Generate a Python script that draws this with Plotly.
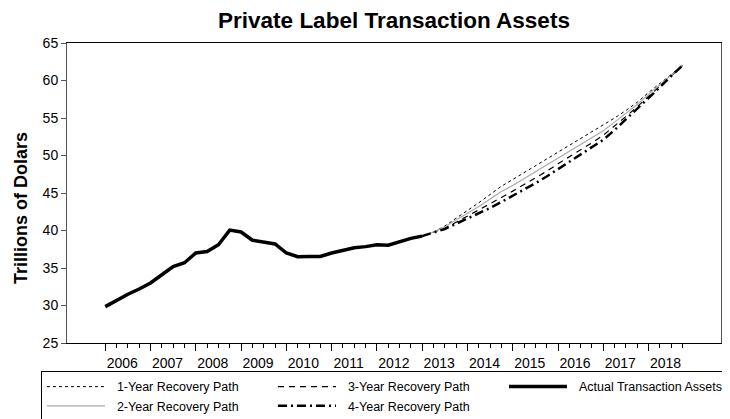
import plotly.graph_objects as go

# ---- data ----
years = list(range(2006, 2019))
quarters_actual = [2006 + k / 4 for k in range(29)]          # 2006Q1 .. 2013Q1
actual = [29.85, 30.7, 31.5, 32.2, 33.0, 34.1, 35.2, 35.7, 37.0, 37.2,
          38.1, 40.05, 39.8, 38.7, 38.5, 38.2, 37.0, 36.5, 36.55, 36.55,
          37.0, 37.4, 37.7, 37.85, 38.1, 38.05, 38.5, 38.95, 39.25]

quarters_proj = [2013 + k / 4 for k in range(24)]             # 2013Q1 .. 2018Q4
path_1y = [39.25, 39.8, 40.6, 41.6, 42.7, 43.7, 44.8, 45.9, 46.8, 47.7, 48.6, 49.5,
           50.4, 51.3, 52.2, 53.1, 54.0, 55.0, 56.0, 57.1, 58.4, 59.6, 60.8, 62.0]
path_2y = [39.25, 39.8, 40.5, 41.35, 42.3, 43.2, 44.2, 45.2, 46.0, 46.9, 47.8, 48.7,
           49.6, 50.6, 51.5, 52.4, 53.3, 54.45, 55.6, 56.8, 58.15, 59.4, 60.7, 62.0]
path_3y = [39.25, 39.75, 40.3, 41.1, 41.9, 42.7, 43.55, 44.4, 45.25, 46.1, 47.0, 47.9,
           48.9, 49.8, 50.8, 51.7, 52.7, 53.9, 55.2, 56.5, 57.9, 59.25, 60.65, 62.0]
path_4y = [39.25, 39.7, 40.2, 40.9, 41.6, 42.25, 43.0, 43.8, 44.6, 45.4, 46.3, 47.2,
           48.2, 49.2, 50.2, 51.1, 52.1, 53.4, 54.8, 56.2, 57.7, 59.1, 60.6, 62.0]

year_labels = [str(y) for y in years]
minor_ticks = [y + q / 4 for y in years for q in (1, 2, 3)]

FONT = "Liberation Sans, Arial, sans-serif"
PAD = "\u00a0" * 2   # gap between legend sample and its label

fig = go.Figure()
# legend order: row1 = 1Y, 3Y, Actual ; row2 = 2Y, 4Y
fig.add_trace(go.Scatter(x=quarters_proj, y=path_1y, mode="lines", name=PAD + "1-Year Recovery Path",
                         line=dict(color="black", width=1, dash="dot")))
fig.add_trace(go.Scatter(x=quarters_proj, y=path_3y, mode="lines", name=PAD + "3-Year Recovery Path",
                         line=dict(color="black", width=1.2, dash="6px,5px")))
fig.add_trace(go.Scatter(x=quarters_actual, y=actual, mode="lines",
                         name=PAD + "Actual Transaction Assets", legendwidth=158,
                         line=dict(color="black", width=3.5)))
fig.add_trace(go.Scatter(x=quarters_proj, y=path_2y, mode="lines", name=PAD + "2-Year Recovery Path",
                         line=dict(color="#aaaaaa", width=1.2)))
fig.add_trace(go.Scatter(x=quarters_proj, y=path_4y, mode="lines", name=PAD + "4-Year Recovery Path",
                         line=dict(color="black", width=2.5, dash="9px,4px,2px,4px")))

# the page places the figure 8px in from the window corner, so the figure is 8px smaller
fig.update_layout(
    width=722, height=411,
    margin=dict(l=59, r=9, t=35, b=76, autoexpand=False),
    paper_bgcolor="white", plot_bgcolor="white",
    font=dict(family=FONT, color="black", size=12),
    title=dict(text="<b>Private Label Transaction Assets</b>", x=0.5, xref="paper",
               xanchor="center", y=1 - 12 / 411, yref="container", yanchor="middle",
               font=dict(family=FONT, size=22.5, color="black")),
    showlegend=True,
    legend=dict(orientation="h", x=-0.0398, xanchor="left", y=-0.0933, yanchor="top",
                bordercolor="black", borderwidth=1, bgcolor="white",
                font=dict(family=FONT, size=12.5, color="black"),
                itemwidth=58, entrywidth=134, traceorder="normal"),
    annotations=[dict(text="<b>Trillions of Dolars</b>", textangle=-90,
                      xref="paper", yref="paper", x=-0.0703, y=0.45,
                      xanchor="center", yanchor="middle", showarrow=False,
                      font=dict(family=FONT, size=18, color="black"))],
)

fig.update_xaxes(
    range=[2005.155, 2019.60], showgrid=False, zeroline=False, automargin=False,
    showline=True, linecolor="black", linewidth=1, mirror=True,
    tickmode="array", tickvals=years, ticktext=year_labels,
    ticks="outside", ticklen=7, tickcolor="black", tickwidth=1,
    ticklabelshift=17, tickfont=dict(family=FONT, size=14, color="black"),
    minor=dict(tickmode="array", tickvals=minor_ticks, ticks="outside", ticklen=4,
               tickcolor="black", tickwidth=1, showgrid=False),
)
fig.update_yaxes(
    range=[25, 65], showgrid=False, zeroline=False, automargin=False,
    showline=True, linecolor="#555555", linewidth=1, mirror=True,
    tickmode="linear", tick0=25, dtick=5,
    ticks="outside", ticklen=5, tickcolor="#555555",
    tickfont=dict(family=FONT, size=14, color="black"),
)

fig.write_html("out.html")
